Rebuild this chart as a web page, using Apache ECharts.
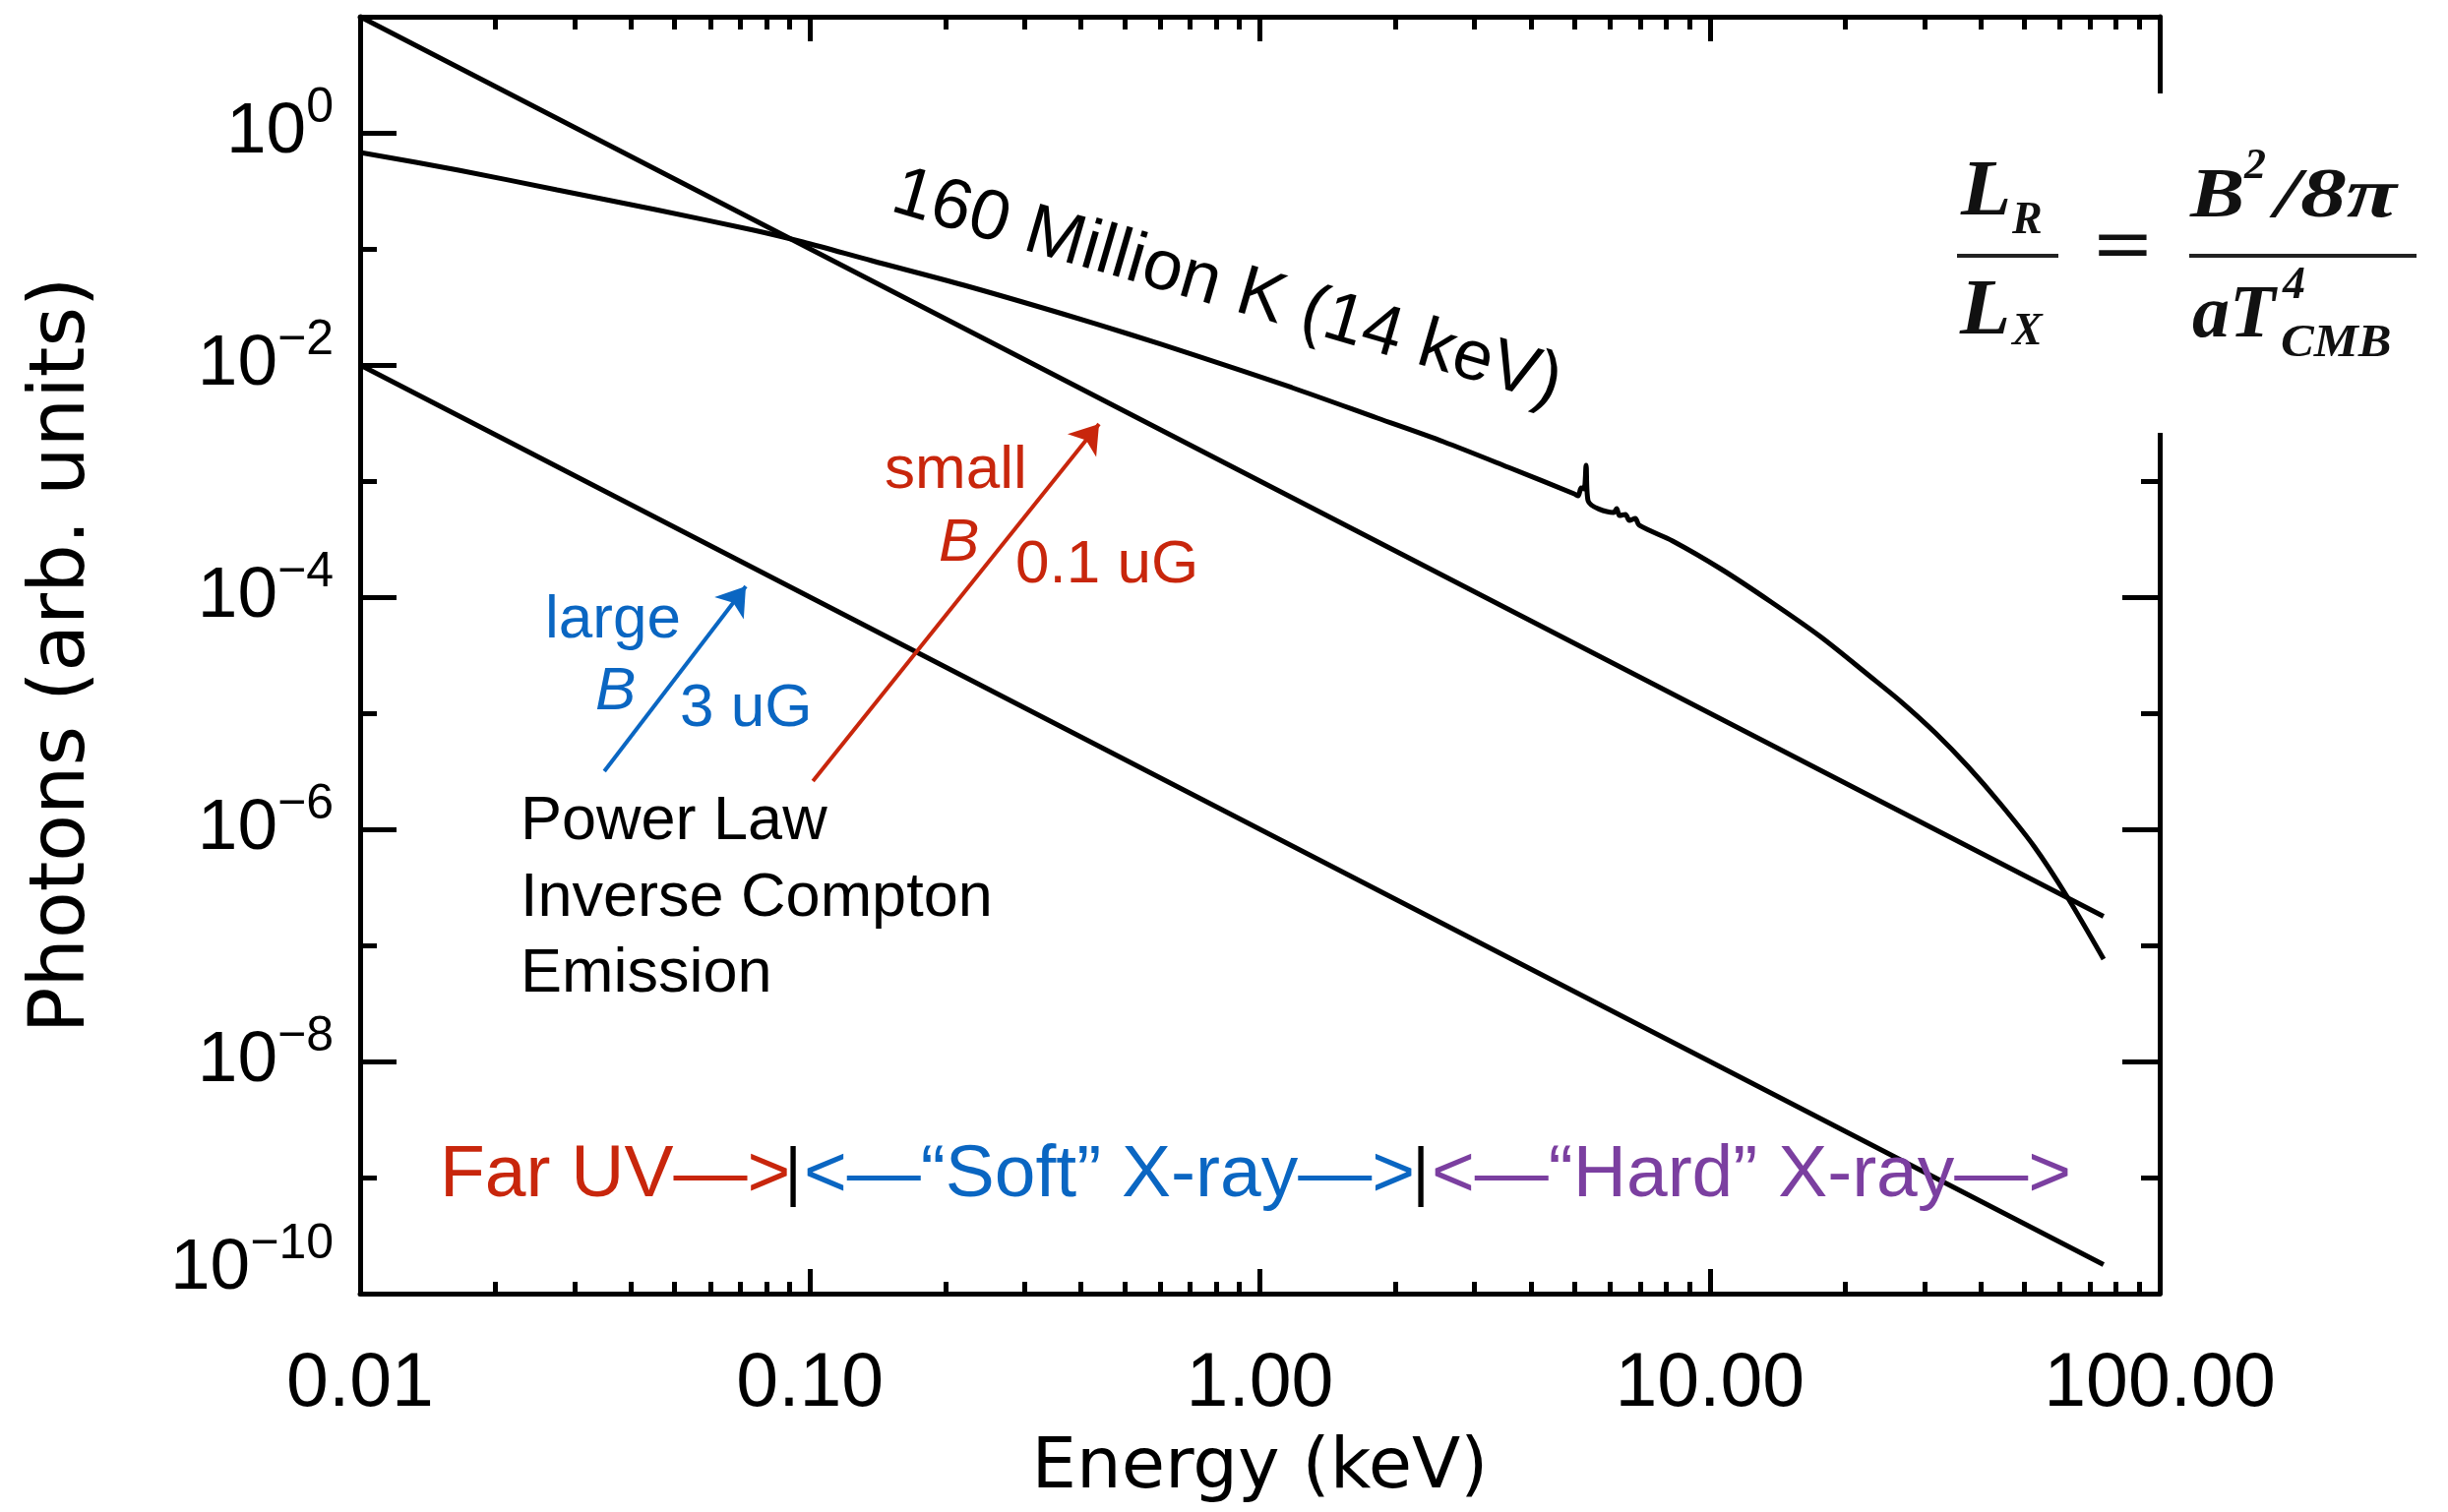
<!DOCTYPE html>
<html>
<head>
<meta charset="utf-8">
<script src="https://cdn.jsdelivr.net/npm/echarts@6/dist/echarts.min.js"></script>
<style>
html,body{margin:0;padding:0;background:#fff;}
#c{width:2488px;height:1537px;}
</style>
</head>
<body>
<div id="c"></div>
<script>
// ---------- data ----------
const thermalEnergy = [0.01, 0.01655, 0.02738, 0.0453, 0.07495, 0.09641, 0.1372, 0.2202, 0.3643, 0.5105,
  0.7118, 1.178, 1.825, 2.558, 3.566, 4.996, 5.098, 5.176, 5.255, 5.309, 5.363, 6.113, 6.207, 6.300,
  6.494, 6.626, 6.830, 6.968, 8.270, 10.64, 13.69, 17.60, 22.63, 26.73, 31.72, 37.45, 44.23, 52.50, 61.97, 75.05];
const thermalPhotons = [0.677, 0.4764, 0.3225, 0.2183, 0.1449, 0.1146, 0.0791, 0.04857, 0.02759, 0.01849,
  0.01227, 0.006385, 0.003486, 0.002183, 0.001314, 7.76e-4, 7.46e-4, 8.72e-4, 8.55e-4, 1.366e-3, 6.77e-4, 5.36e-4, 5.79e-4, 5.05e-4,
  5.15e-4, 4.58e-4, 4.76e-4, 4.16e-4, 3.04e-4, 1.727e-4, 9.07e-5, 4.58e-5, 2.10e-5, 1.239e-5, 6.77e-6, 3.486e-6, 1.661e-6, 7.18e-7, 2.705e-7, 7.61e-8];

const powerLawEnergy = [0.01, 0.1, 1, 10, 75];
const smallBPhotons = [10, 0.1, 1e-3, 1e-5, 1.78e-7];      // upper line, B = 0.1 uG
const largeBPhotons = [1e-2, 1e-4, 1e-6, 1e-8, 1.78e-10];  // lower line, B = 3 uG

const arrowLargeB = [[0.0349, 3.16e-6], [0.0720, 1.24e-4]];
const arrowSmallB = [[0.1015, 2.6e-6], [0.439, 3.1e-3]];

const xMin = 0.01, xMax = 100, yMin = 1e-10, yMax = 10;
const xMajorTicks = [0.01, 0.1, 1, 10, 100];
const xTickLabels = ['0.01', '0.10', '1.00', '10.00', '100.00'];
const xMinorTicks = [0.02,0.03,0.04,0.05,0.06,0.07,0.08,0.09, 0.2,0.3,0.4,0.5,0.6,0.7,0.8,0.9,
  2,3,4,5,6,7,8,9, 20,30,40,50,60,70,80,90];
const yMajorTicks = [1e-10, 1e-8, 1e-6, 1e-4, 1e-2, 1];
const yTickExponents = ['\u221210', '\u22128', '\u22126', '\u22124', '\u22122', '0'];
const yMinorTicks = [1e-9, 1e-7, 1e-5, 1e-3, 1e-1];

// ---------- styling ----------
const BLACK = '#000';
const RED = '#c8260c';
const BLUE = '#0a66c2';
const PURPLE = '#7b3fa0';
const SANS = 'Liberation Sans';
const W = 5;

function nearestIndex(arr, v) {
  let best = 0, bd = Infinity;
  arr.forEach((a, i) => { const d = Math.abs(Math.log10(a) - Math.log10(v)); if (d < bd) { bd = d; best = i; } });
  return best;
}

function logAxis(isX, position, o) {
  return {
    type: 'log', logBase: 10,
    min: isX ? xMin : yMin, max: isX ? xMax : yMax,
    position: position,
    splitLine: {show: false},
    minorTick: {show: false},
    axisLine: {show: !!o.line, onZero: false, lineStyle: {color: BLACK, width: W}},
    axisTick: {show: true, inside: true, length: o.len, customValues: o.ticks,
      lineStyle: {color: BLACK, width: W}},
    axisLabel: o.label || {show: false},
    name: o.name || '',
    nameLocation: 'middle',
    nameGap: o.nameGap || 0,
    nameRotate: o.nameRotate,
    nameTextStyle: o.nameStyle || {},
    silent: true
  };
}

const xAxes = [
  logAxis(true, 'bottom', {line: true, len: 25, ticks: xMajorTicks,
    label: {show: true, customValues: xMajorTicks, showMinLabel: true, showMaxLabel: true,
      margin: 54, fontSize: 77, fontFamily: SANS, color: BLACK,
      formatter: v => xTickLabels[nearestIndex(xMajorTicks, v)]},
    name: 'Energy (keV)', nameGap: 142,
    nameStyle: {fontSize: 72, fontFamily: 'DejaVu Sans', color: BLACK}}),
  logAxis(true, 'bottom', {len: 12, ticks: xMinorTicks}),
  logAxis(true, 'top', {line: true, len: 25, ticks: xMajorTicks}),
  logAxis(true, 'top', {len: 13, ticks: xMinorTicks})
];

const yAxes = [
  logAxis(false, 'left', {line: true, len: 37, ticks: yMajorTicks,
    label: {show: true, customValues: yMajorTicks, showMinLabel: true, showMaxLabel: true,
      margin: 27, color: BLACK,
      formatter: v => {
        const i = nearestIndex(yMajorTicks, v);
        return '{b|10}{s|' + yTickExponents[i] + '}' + (i === 0 ? '\n{pad| }' : '');
      },
      rich: {
        b: {fontSize: 73, lineHeight: 100, fontFamily: SANS, color: BLACK},
        s: {fontSize: 50, lineHeight: 51, fontFamily: SANS, color: BLACK, verticalAlign: 'top'},
        pad: {fontSize: 10, lineHeight: 50}
      }},
    name: 'Photons (arb. units)', nameGap: 262, nameRotate: 90,
    nameStyle: {fontSize: 78, fontFamily: 'DejaVu Sans', color: BLACK}}),
  logAxis(false, 'left', {len: 17, ticks: yMinorTicks}),
  logAxis(false, 'right', {line: true, len: 38, ticks: yMajorTicks}),
  logAxis(false, 'right', {len: 19, ticks: yMinorTicks})
];

function pairs(xs, ys) { return xs.map((x, i) => [x, ys[i]]); }

const lineSeries = (name, data, smooth) => ({
  name: name, type: 'line', xAxisIndex: 0, yAxisIndex: 0, data: data,
  showSymbol: false, symbol: 'none', silent: true, animation: false,
  smooth: smooth || false,
  lineStyle: {color: BLACK, width: W}, z: 5
});

// ---------- annotation text (positions in pixels) ----------
function txt(text, x, y, size, color, extra) {
  return Object.assign({
    type: 'text', x: x, y: y, z: 50, silent: true,
    style: Object.assign({text: text, fill: color, fontSize: size, fontFamily: SANS,
      align: 'left', verticalAlign: 'middle'}, (extra && extra.style) || {})
  }, extra ? {rotation: extra.rotation || 0, scaleX: extra.scaleX || 1} : {});
}
const SERIF = 'Liberation Serif';
function ftxt(text, x, y, size, scaleX, align) {
  return {type: 'text', x: x, y: y, z: 60, silent: true, scaleX: scaleX || 1,
    style: {text: text, fill: '#111', fontSize: size, fontFamily: SERIF, fontStyle: 'italic', fontWeight: 'bold',
      align: align || 'left', verticalAlign: 'middle'}};
}

const graphics = [
  txt('160 Million K (14 keV)', 1247, 293, 72, BLACK, {rotation: -16.2 * Math.PI / 180, style: {align: 'center'}}),
  txt('small', 899, 479, 62, RED),
  txt('B', 954, 553, 62, RED, {style: {fontStyle: 'italic'}}),
  txt('0.1 uG', 1032, 575, 62, RED),
  txt('large', 554, 631, 62, BLUE),
  txt('B', 605, 704, 62, BLUE, {style: {fontStyle: 'italic'}}),
  txt('3 uG', 691, 721, 62, BLUE),
  txt('Power Law', 529, 836, 63, BLACK),
  txt('Inverse Compton', 529, 914, 63, BLACK),
  txt('Emission', 529, 991, 63, BLACK),
  txt('Far UV\u2014>', 447, 1195, 75, RED),
  txt('|', 806, 1195, 66, BLACK, {style: {align: 'center'}}),
  txt('<\u2014\u201cSoft\u201d X-ray\u2014>', 817, 1195, 75, BLUE),
  txt('|', 1444, 1195, 66, BLACK, {style: {align: 'center'}}),
  txt('<\u2014\u201cHard\u201d X-ray\u2014>', 1455, 1195, 75, PURPLE),
  // formula box
  {type: 'rect', z: 55, silent: true, shape: {x: 1975, y: 95, width: 513, height: 345}, style: {fill: '#fff'}},
  ftxt('L', 1993, 197, 80, 1.05),
  ftxt('R', 2045, 225, 46),
  {type: 'rect', z: 60, silent: true, shape: {x: 1989, y: 258, width: 103, height: 4}, style: {fill: '#222'}},
  ftxt('L', 1992, 318, 80, 1.05),
  ftxt('X', 2045, 338, 46),
  ftxt('=', 2157, 255, 80, 1.3, 'center'),
  ftxt('B', 2226, 201, 72, 1.15),
  ftxt('2', 2281, 170, 44),
  ftxt('/8\u03c0', 2312, 201, 72, 1.3),
  {type: 'rect', z: 60, silent: true, shape: {x: 2225, y: 258, width: 231, height: 4}, style: {fill: '#222'}},
  ftxt('aT', 2228, 322, 76),
  ftxt('4', 2320, 291, 46),
  ftxt('CMB', 2318, 350, 46, 1.1)
];

const chart = echarts.init(document.getElementById('c'), null, {renderer: 'canvas', width: 2488, height: 1537});
chart.setOption({
  animation: false,
  backgroundColor: '#fff',
  grid: {left: 366, right: 293, top: 17, bottom: 222, containLabel: false},
  xAxis: xAxes,
  yAxis: yAxes,
  series: [
    lineSeries('160 Million K (14 keV)', pairs(thermalEnergy, thermalPhotons), 0.3),
    lineSeries('Power law, small B (0.1 uG)', pairs(powerLawEnergy, smallBPhotons)),
    lineSeries('Power law, large B (3 uG)', pairs(powerLawEnergy, largeBPhotons)),
    {
      type: 'lines', coordinateSystem: 'cartesian2d', xAxisIndex: 0, yAxisIndex: 0, silent: true,
      symbol: ['none', 'arrow'], symbolSize: 28, z: 20,
      data: [
        {coords: arrowLargeB, lineStyle: {color: BLUE, width: 4}},
        {coords: arrowSmallB, lineStyle: {color: RED, width: 4}}
      ],
      lineStyle: {opacity: 1, curveness: 0}
    }
  ],
  graphic: {elements: graphics}
});
</script>
</body>
</html>
